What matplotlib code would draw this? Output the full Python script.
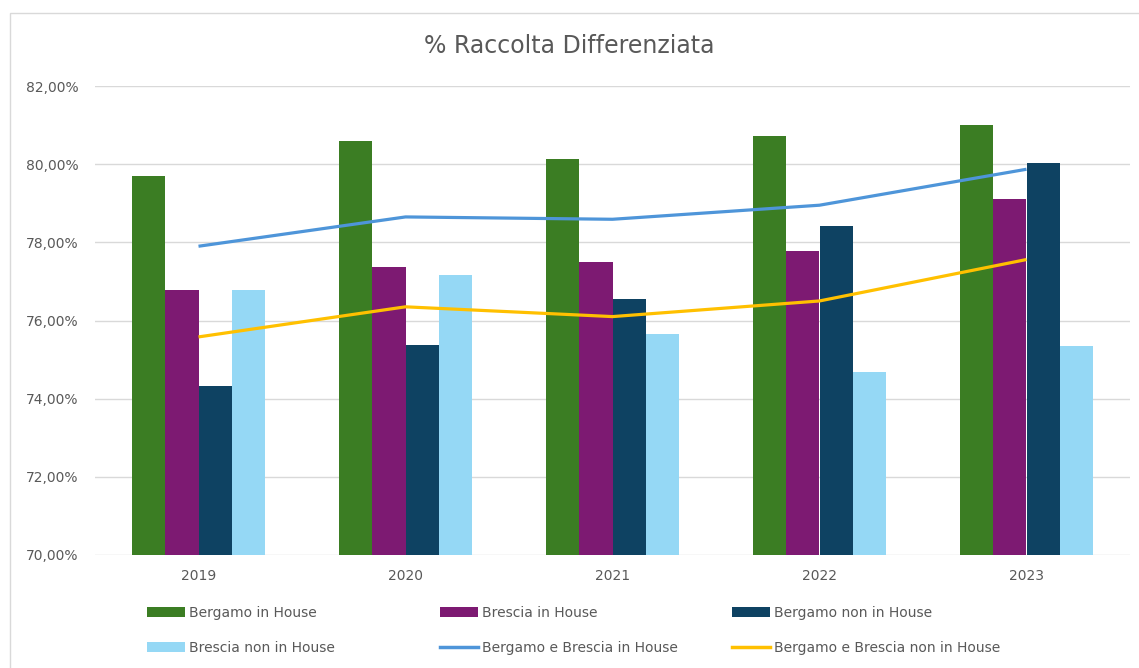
import matplotlib
matplotlib.use("Agg")
import matplotlib.pyplot as plt
import numpy as np
from matplotlib.patches import Patch, Rectangle
from matplotlib.lines import Line2D
from matplotlib.ticker import FuncFormatter, MultipleLocator

plt.rcParams['font.family'] = ['DejaVu Sans']

# % raccolta differenziata per anno
years = ['2019', '2020', '2021', '2022', '2023']
bergamo_in = [79.69, 80.60, 80.12, 80.72, 81.01]
brescia_in = [76.79, 77.36, 77.50, 77.78, 79.10]
bergamo_non = [74.32, 75.37, 76.55, 78.41, 80.02]
brescia_non = [76.79, 77.16, 75.65, 74.67, 75.35]
bg_bs_in = [77.90, 78.65, 78.59, 78.95, 79.87]
bg_bs_non = [75.58, 76.35, 76.10, 76.50, 77.56]

bar_series = [
    ('Bergamo in House', bergamo_in, '#3B7D23'),
    ('Brescia in House', brescia_in, '#7D1A72'),
    ('Bergamo non in House', bergamo_non, '#0E4262'),
    ('Brescia non in House', brescia_non, '#95D8F5'),
]
line_series = [
    ('Bergamo e Brescia in House', bg_bs_in, '#4E95D9'),
    ('Bergamo e Brescia non in House', bg_bs_non, '#FFC000'),
]

text_col = '#595959'
W, H = 1139, 668
fig = plt.figure(figsize=(W / 100, H / 100), dpi=100)

# chart area border
fig.patches.append(Rectangle((10 / W, -0.1), 1.2, 1.1 - 13 / H, transform=fig.transFigure,
                             facecolor='white', edgecolor='#D9D9D9', linewidth=1, zorder=-1))

ax = fig.add_axes([95 / W, 1 - 555 / H, (1130 - 95) / W, (555 - 86) / H])
ax.set_facecolor('none')

x = np.arange(len(years))
w = 0.1614
for i, (name, vals, col) in enumerate(bar_series):
    ax.bar(x + (i - 1.5) * w, vals, w, color=col, zorder=2)
for name, vals, col in line_series:
    ax.plot(x, vals, color=col, lw=2.3, solid_capstyle='butt', zorder=3)

ax.set_xlim(-0.5, len(years) - 0.5)
ax.set_ylim(70, 82)
ax.yaxis.set_major_locator(MultipleLocator(2))
ax.yaxis.set_major_formatter(FuncFormatter(lambda v, p: f'{v:.2f}%'.replace('.', ',')))
ax.set_xticks(x)
ax.set_xticklabels(years)
ax.tick_params(axis='both', length=0, colors=text_col, labelsize=10)
ax.tick_params(axis='y', pad=12)
ax.tick_params(axis='x', pad=10)
ax.grid(axis='y', color='#D9D9D9', lw=1, zorder=0)
for s in ax.spines.values():
    s.set_visible(False)

fig.text(0.5, 1 - 46 / H, '% Raccolta Differenziata', ha='center', va='center',
         fontsize=17, color=text_col)

# legend: three columns, two rows
handles = [Patch(facecolor=c, label=n) for n, v, c in bar_series] + \
          [Line2D([], [], color=c, lw=2.5, label=n) for n, v, c in line_series]
order = [[0, 3], [1, 4], [2, 5]]
col_x = [147, 440, 732]
for cx, idx in zip(col_x, order):
    fig.legend(handles=[handles[k] for k in idx], loc='upper left',
               bbox_to_anchor=(cx / W, 1 - 606 / H), frameon=False, fontsize=10,
               labelcolor=text_col, handlelength=2.75, handletextpad=0.3,
               labelspacing=1.5, borderpad=0, borderaxespad=0)

fig.savefig('out.png', dpi=100)
